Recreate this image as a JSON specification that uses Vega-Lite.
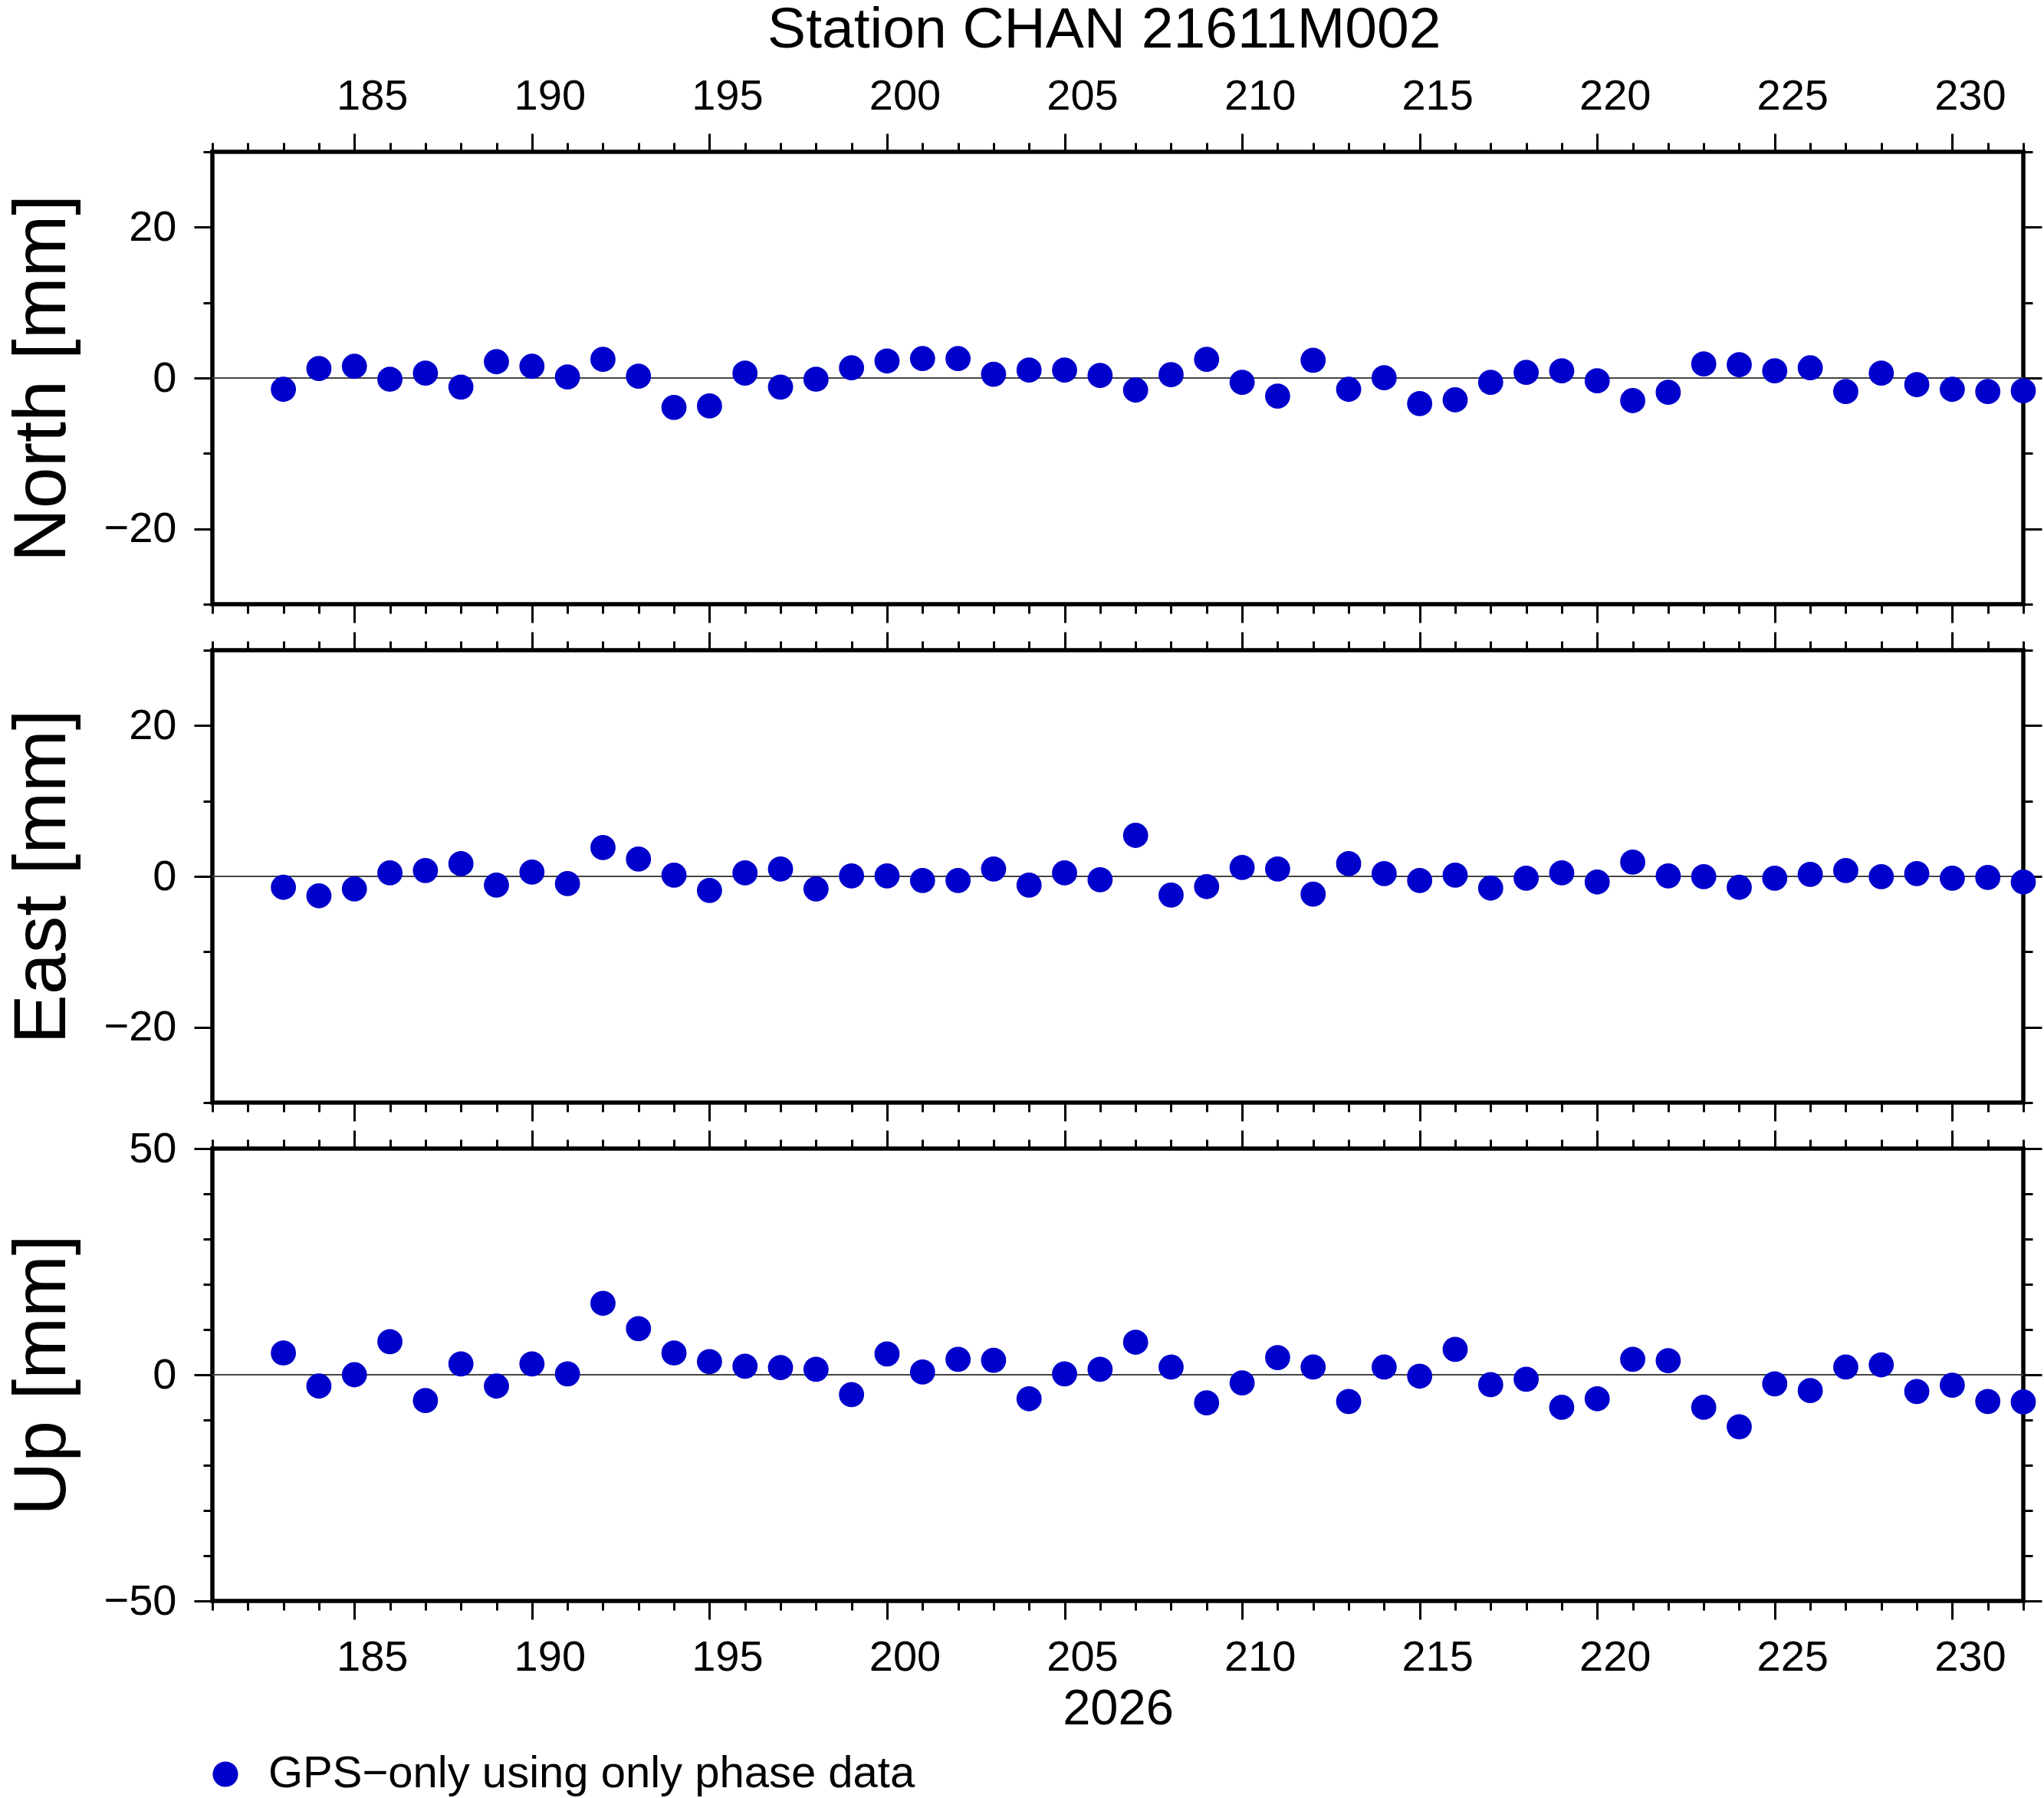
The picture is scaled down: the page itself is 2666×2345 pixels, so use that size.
{
  "$schema": "https://vega.github.io/schema/vega-lite/v6.json",
  "background": "white",
  "padding": {"left": 3, "right": 0, "top": 2, "bottom": 0},
  "title": {
    "text": "Station CHAN 21611M002",
    "fontSize": 75,
    "fontWeight": "normal",
    "color": "black",
    "anchor": "middle",
    "dx": 105,
    "offset": 16
  },
  "data": {
    "values": [
      {"day": 183, "north": -1.5, "east": -1.45, "up": 4.8},
      {"day": 184, "north": 1.25, "east": -2.57, "up": -2.5},
      {"day": 185, "north": 1.55, "east": -1.66, "up": 0.0},
      {"day": 186, "north": -0.17, "east": 0.47, "up": 7.3},
      {"day": 187, "north": 0.64, "east": 0.78, "up": -5.7},
      {"day": 188, "north": -1.2, "east": 1.69, "up": 2.4},
      {"day": 189, "north": 2.16, "east": -1.15, "up": -2.5},
      {"day": 190, "north": 1.55, "east": 0.57, "up": 2.4},
      {"day": 191, "north": 0.14, "east": -0.95, "up": 0.2},
      {"day": 192, "north": 2.47, "east": 3.82, "up": 15.8},
      {"day": 193, "north": 0.24, "east": 2.3, "up": 10.2},
      {"day": 194, "north": -3.9, "east": 0.17, "up": 4.8},
      {"day": 195, "north": -3.7, "east": -1.86, "up": 2.9},
      {"day": 196, "north": 0.64, "east": 0.47, "up": 1.9},
      {"day": 197, "north": -1.2, "east": 0.98, "up": 1.6},
      {"day": 198, "north": -0.17, "east": -1.66, "up": 1.2},
      {"day": 199, "north": 1.35, "east": 0.07, "up": -4.4},
      {"day": 200, "north": 2.26, "east": 0.07, "up": 4.6},
      {"day": 201, "north": 2.57, "east": -0.54, "up": 0.6},
      {"day": 202, "north": 2.57, "east": -0.54, "up": 3.4},
      {"day": 203, "north": 0.5, "east": 0.98, "up": 3.2},
      {"day": 204, "north": 1.05, "east": -1.15, "up": -5.3},
      {"day": 205, "north": 1.05, "east": 0.47, "up": 0.2},
      {"day": 206, "north": 0.34, "east": -0.44, "up": 1.2},
      {"day": 207, "north": -1.6, "east": 5.44, "up": 7.2},
      {"day": 208, "north": 0.44, "east": -2.47, "up": 1.7},
      {"day": 209, "north": 2.47, "east": -1.35, "up": -6.2},
      {"day": 210, "north": -0.57, "east": 1.18, "up": -1.8},
      {"day": 211, "north": -2.4, "east": 0.98, "up": 3.8},
      {"day": 212, "north": 2.36, "east": -2.36, "up": 1.7},
      {"day": 213, "north": -1.5, "east": 1.69, "up": -5.9},
      {"day": 214, "north": 0.03, "east": 0.37, "up": 1.7},
      {"day": 215, "north": -3.4, "east": -0.54, "up": -0.3},
      {"day": 216, "north": -2.9, "east": 0.17, "up": 5.6},
      {"day": 217, "north": -0.57, "east": -1.55, "up": -2.2},
      {"day": 218, "north": 0.74, "east": -0.24, "up": -1.0},
      {"day": 219, "north": 0.95, "east": 0.47, "up": -7.2},
      {"day": 220, "north": -0.37, "east": -0.74, "up": -5.3},
      {"day": 221, "north": -3.0, "east": 1.89, "up": 3.4},
      {"day": 222, "north": -1.9, "east": 0.07, "up": 3.1},
      {"day": 223, "north": 1.86, "east": -0.03, "up": -7.2},
      {"day": 224, "north": 1.76, "east": -1.45, "up": -11.5},
      {"day": 225, "north": 0.95, "east": -0.24, "up": -2.0},
      {"day": 226, "north": 1.35, "east": 0.27, "up": -3.5},
      {"day": 227, "north": -1.8, "east": 0.78, "up": 1.7},
      {"day": 228, "north": 0.64, "east": -0.03, "up": 2.2},
      {"day": 229, "north": -0.88, "east": 0.37, "up": -3.7},
      {"day": 230, "north": -1.5, "east": -0.24, "up": -2.3},
      {"day": 231, "north": -1.8, "east": -0.14, "up": -5.9},
      {"day": 232, "north": -1.7, "east": -0.74, "up": -6.0}
    ]
  },
  "vconcat": [
    {
      "width": 2362,
      "height": 590,
      "layer": [
        {
          "mark": {"type": "rule", "color": "#444444", "strokeWidth": 1.5},
          "encoding": {
            "x": {"datum": 181, "type": "quantitative",
              "axis": {"orient": "top", "title": null, "values": [181,182,183,184,185,186,187,188,189,190,191,192,193,194,195,196,197,198,199,200,201,202,203,204,205,206,207,208,209,210,211,212,213,214,215,216,217,218,219,220,221,222,223,224,225,226,227,228,229,230,231,232],
                "tickSize": {"expr": "datum.value % 5 == 0 ? 24 : 12"},
                "labelExpr": "datum.value % 5 == 0 ? datum.label : ''",
                "labelOffset": 23,
                "labelPadding": 20}},
            "x2": {"datum": 232},
            "y": {"datum": 0, "type": "quantitative",
              "axis": {"orient": "right", "title": null, "labels": false, "values": [-30,-20,-10,0,10,20,30],
                "tickSize": {"expr": "datum.value % 20 == 0 ? 24 : 12"}}}
          }
        },
        {
          "mark": {"type": "circle", "size": 1075, "opacity": 1, "color": "#0000cc"},
          "encoding": {
            "x": {"field": "day", "type": "quantitative",
              "scale": {"domain": [181, 232], "nice": false, "zero": false},
              "axis": {"orient": "bottom", "title": null, "labels": false, "values": [181,182,183,184,185,186,187,188,189,190,191,192,193,194,195,196,197,198,199,200,201,202,203,204,205,206,207,208,209,210,211,212,213,214,215,216,217,218,219,220,221,222,223,224,225,226,227,228,229,230,231,232],
                "tickSize": {"expr": "datum.value % 5 == 0 ? 24 : 12"}}},
            "y": {"field": "north", "type": "quantitative",
              "scale": {"domain": [-30, 30], "nice": false},
              "axis": {"orient": "left", "title": "North [mm]", "values": [-30,-20,-10,0,10,20,30],
                "tickSize": {"expr": "datum.value % 20 == 0 ? 24 : 12"},
                "labelExpr": "datum.value % 20 == 0 ? datum.label : ''"}}
          }
        }
      ],
      "resolve": {"axis": {"x": "independent", "y": "independent"}}
    },
    {
      "width": 2362,
      "height": 590,
      "layer": [
        {
          "mark": {"type": "rule", "color": "#444444", "strokeWidth": 1.5},
          "encoding": {
            "x": {"datum": 181, "type": "quantitative",
              "axis": {"orient": "top", "title": null, "labels": false, "values": [181,182,183,184,185,186,187,188,189,190,191,192,193,194,195,196,197,198,199,200,201,202,203,204,205,206,207,208,209,210,211,212,213,214,215,216,217,218,219,220,221,222,223,224,225,226,227,228,229,230,231,232],
                "tickSize": {"expr": "datum.value % 5 == 0 ? 24 : 12"}}},
            "x2": {"datum": 232},
            "y": {"datum": 0, "type": "quantitative",
              "axis": {"orient": "right", "title": null, "labels": false, "values": [-30,-20,-10,0,10,20,30],
                "tickSize": {"expr": "datum.value % 20 == 0 ? 24 : 12"}}}
          }
        },
        {
          "mark": {"type": "circle", "size": 1075, "opacity": 1, "color": "#0000cc"},
          "encoding": {
            "x": {"field": "day", "type": "quantitative",
              "scale": {"domain": [181, 232], "nice": false, "zero": false},
              "axis": {"orient": "bottom", "title": null, "labels": false, "values": [181,182,183,184,185,186,187,188,189,190,191,192,193,194,195,196,197,198,199,200,201,202,203,204,205,206,207,208,209,210,211,212,213,214,215,216,217,218,219,220,221,222,223,224,225,226,227,228,229,230,231,232],
                "tickSize": {"expr": "datum.value % 5 == 0 ? 24 : 12"}}},
            "y": {"field": "east", "type": "quantitative",
              "scale": {"domain": [-30, 30], "nice": false},
              "axis": {"orient": "left", "title": "East [mm]", "values": [-30,-20,-10,0,10,20,30],
                "tickSize": {"expr": "datum.value % 20 == 0 ? 24 : 12"},
                "labelExpr": "datum.value % 20 == 0 ? datum.label : ''"}}
          }
        }
      ],
      "resolve": {"axis": {"x": "independent", "y": "independent"}}
    },
    {
      "width": 2362,
      "height": 590,
      "layer": [
        {
          "mark": {"type": "rule", "color": "#444444", "strokeWidth": 1.5},
          "encoding": {
            "x": {"datum": 181, "type": "quantitative",
              "axis": {"orient": "top", "title": null, "labels": false, "values": [181,182,183,184,185,186,187,188,189,190,191,192,193,194,195,196,197,198,199,200,201,202,203,204,205,206,207,208,209,210,211,212,213,214,215,216,217,218,219,220,221,222,223,224,225,226,227,228,229,230,231,232],
                "tickSize": {"expr": "datum.value % 5 == 0 ? 24 : 12"}}},
            "x2": {"datum": 232},
            "y": {"datum": 0, "type": "quantitative",
              "axis": {"orient": "right", "title": null, "labels": false, "values": [-50,-40,-30,-20,-10,0,10,20,30,40,50],
                "tickSize": {"expr": "datum.value % 50 == 0 ? 24 : 12"}}}
          }
        },
        {
          "mark": {"type": "circle", "size": 1075, "opacity": 1, "color": "#0000cc"},
          "encoding": {
            "x": {"field": "day", "type": "quantitative",
              "scale": {"domain": [181, 232], "nice": false, "zero": false},
              "axis": {"orient": "bottom", "title": "2026", "titleFontSize": 65, "titlePadding": 8, "values": [181,182,183,184,185,186,187,188,189,190,191,192,193,194,195,196,197,198,199,200,201,202,203,204,205,206,207,208,209,210,211,212,213,214,215,216,217,218,219,220,221,222,223,224,225,226,227,228,229,230,231,232],
                "tickSize": {"expr": "datum.value % 5 == 0 ? 24 : 12"},
                "labelExpr": "datum.value % 5 == 0 ? datum.label : ''",
                "labelOffset": 23,
                "labelPadding": 22}},
            "y": {"field": "up", "type": "quantitative",
              "scale": {"domain": [-50, 50], "nice": false},
              "axis": {"orient": "left", "title": "Up [mm]", "values": [-50,-40,-30,-20,-10,0,10,20,30,40,50],
                "tickSize": {"expr": "datum.value % 50 == 0 ? 24 : 12"},
                "labelExpr": "datum.value % 50 == 0 ? datum.label : ''"}},
            "color": {"datum": "GPS−only using only phase data", "type": "nominal",
              "scale": {"range": ["#0000cc"]},
              "legend": {"orient": "bottom", "title": null, "symbolType": "circle", "symbolSize": 1100,
                "symbolOpacity": 1, "symbolOffset": -12, "labelFontSize": 58, "labelOffset": 27, "labelLimit": 1500,
                "padding": 0, "offset": 21}}
          }
        }
      ],
      "resolve": {"axis": {"x": "independent", "y": "independent"}}
    }
  ],
  "spacing": 60,
  "bounds": "flush",
  "config": {
    "font": "Liberation Sans",
    "view": {"stroke": "black", "strokeWidth": 5.5},
    "axis": {
      "domain": false,
      "grid": false,
      "ticks": true,
      "tickColor": "black",
      "tickWidth": 3,
      "labelColor": "black",
      "labelFont": "Liberation Sans",
      "labelFontSize": 56,
      "labelPadding": 23,
      "labelOverlap": false,
      "labelFlush": false,
      "titleFont": "Liberation Sans",
      "titleFontWeight": "normal",
      "titleColor": "black",
      "titleFontSize": 97,
      "titlePadding": 31
    },
    "legend": {
      "labelFont": "Liberation Sans",
      "labelColor": "black"
    }
  }
}
